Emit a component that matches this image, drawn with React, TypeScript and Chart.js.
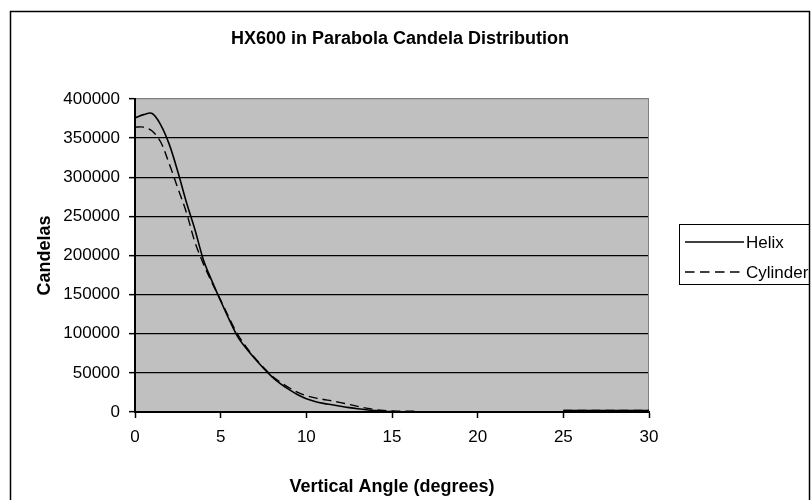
import React, { useEffect, useRef } from "react";
import { Chart, registerables } from "chart.js";

Chart.register(...registerables);

const FONT = "'Liberation Sans', Arial, sans-serif";

const chartTitle = "HX600 in Parabola Candela Distribution";
const xTitle = "Vertical Angle (degrees)";
const yTitle = "Candelas";
const seriesNames = ["Helix", "Cylinder"];

// angle 20 is a gap marker (no data between 16.5 and 25 degrees)
const angleDeg = [
  0, 0.5, 1, 1.5, 2, 2.5, 3, 3.5, 4, 4.5, 5, 5.5, 6, 6.5, 7, 7.5, 8, 8.5, 9, 9.5,
  10, 10.5, 11, 11.5, 12, 12.5, 13, 13.5, 14, 14.5, 15, 15.5, 16, 16.5,
  20,
  25, 25.5, 26, 26.5, 27, 27.5, 28, 28.5, 29, 29.5, 30,
];

const helixCd = [
  376000, 380000, 381500, 367000, 342000, 307000, 268000, 233000, 194000, 167000,
  142000, 118000, 96000, 81000, 68000, 56000, 45000, 36000, 28500, 22000,
  17000, 13500, 11000, 9200, 7300, 5600, 4100, 2800, 1800, 1000, 500, 300, 200, 200,
  null,
  1800, 1800, 1800, 1800, 1800, 1800, 1800, 1800, 1800, 1800, 1800,
];

const cylinderCd = [
  364000, 364000, 359000, 345000, 317000, 286000, 255000, 217000, 189000, 165000,
  143000, 120000, 99000, 83000, 69000, 57000, 46000, 38000, 31000, 25000,
  21000, 18000, 16000, 14200, 12000, 9600, 7200, 5000, 3200, 2000, 1400, 1100, 1000, 1000,
  null,
  2000, 2000, 2000, 2000, 2000, 2000, 2000, 2000, 2000, 2000, 2000,
];

const xTicks = [0, 5, 10, 15, 20, 25, 30];
const yTicks = [0, 50000, 100000, 150000, 200000, 250000, 300000, 350000, 400000];

const seriesDash = [[], [9, 5]];

const framePlugin = {
  id: "frame",
  beforeDraw(chart: any) {
    const { ctx, chartArea } = chart;
    const { left, top, right, bottom } = chartArea;
    ctx.save();
    ctx.fillStyle = "#ffffff";
    ctx.fillRect(0, 0, chart.width, chart.height);
    ctx.fillStyle = "#C0C0C0";
    ctx.fillRect(left, top, right - left, bottom - top);
    ctx.restore();
  },
  beforeDatasetsDraw(chart: any) {
    const { ctx, chartArea } = chart;
    const { top, right, bottom } = chartArea;
    ctx.save();
    ctx.strokeStyle = "#808080";
    ctx.lineWidth = 1;
    ctx.beginPath();
    ctx.moveTo(right - 0.5, top);
    ctx.lineTo(right - 0.5, bottom);
    ctx.stroke();
    ctx.restore();
  },
  afterDraw(chart: any) {
    const { ctx } = chart;
    ctx.save();
    // outer frame (bottom edge lies beyond the canvas)
    ctx.strokeStyle = "#000";
    ctx.lineWidth = 1.5;
    ctx.strokeRect(10.5, 11.5, 799, 500);
    // title
    ctx.fillStyle = "#000";
    ctx.font = `bold 18px ${FONT}`;
    ctx.textAlign = "center";
    ctx.textBaseline = "middle";
    ctx.fillText(chartTitle, 400, 39);
    // legend
    const bx = 679.5, by = 224.5, bw = 130, bh = 60;
    ctx.lineWidth = 1;
    ctx.strokeRect(bx, by, bw, bh);
    ctx.font = `17px ${FONT}`;
    ctx.textAlign = "left";
    const rows = [242, 272];
    seriesNames.forEach((name, i) => {
      const y = rows[i];
      ctx.beginPath();
      ctx.lineWidth = 1.4;
      ctx.setLineDash(i === 1 ? [9.5, 5.5] : []);
      ctx.moveTo(685, y);
      ctx.lineTo(744, y);
      ctx.stroke();
      ctx.setLineDash([]);
      ctx.fillText(name, 746, y + 1);
    });
    ctx.restore();
  },
};

export default function App() {
  const canvasRef = useRef<HTMLCanvasElement | null>(null);

  useEffect(() => {
    if (!canvasRef.current) return;
    const mk = (vals: (number | null)[]) =>
      angleDeg.map((a, i) => ({ x: a, y: vals[i] }));
    const chart = new Chart(canvasRef.current, {
      type: "scatter",
      data: {
        datasets: [
          {
            label: seriesNames[0],
            data: mk(helixCd) as any,
            showLine: true,
            borderColor: "#000",
            borderWidth: 1.6,
            borderDash: seriesDash[0],
            pointRadius: 0,
            tension: 0.35,
            spanGaps: false,
          },
          {
            label: seriesNames[1],
            data: mk(cylinderCd) as any,
            showLine: true,
            borderColor: "#000",
            borderWidth: 1.4,
            borderDash: seriesDash[1],
            pointRadius: 0,
            tension: 0.35,
            spanGaps: false,
          },
        ],
      },
      options: {
        responsive: false,
        animation: false,
        events: [],
        layout: { padding: { left: 10, top: 99, right: 162, bottom: 0 } },
        plugins: {
          legend: { display: false },
          title: { display: false },
          tooltip: { enabled: false },
        },
        scales: {
          x: {
            type: "linear",
            min: 0,
            max: 30,
            afterBuildTicks: (s: any) => {
              s.ticks = xTicks.map((v) => ({ value: v }));
            },
            afterFit: (s: any) => {
              s.height = 88;
            },
            ticks: {
              color: "#000",
              font: { size: 17, family: FONT },
              padding: 9,
              maxRotation: 0,
              callback: (v: any) => String(v),
            },
            grid: {
              drawOnChartArea: false,
              color: "#000",
              tickLength: 6,
              tickWidth: 1.5,
            },
            border: { color: "#000", width: 2 },
            title: {
              display: true,
              text: xTitle,
              color: "#000",
              font: { size: 18, weight: "bold", family: FONT },
              padding: { top: 0, bottom: 2 },
            },
          },
          y: {
            type: "linear",
            min: 0,
            max: 400000,
            afterBuildTicks: (s: any) => {
              s.ticks = yTicks.map((v) => ({ value: v }));
            },
            afterFit: (s: any) => {
              s.width = 125;
            },
            ticks: {
              color: "#000",
              font: { size: 17, family: FONT },
              padding: 9,
              callback: (v: any) => String(v),
            },
            grid: {
              color: (c: any) => (c.tick && c.tick.value === 400000 ? "#808080" : "#000"),
              tickColor: "#000",
              lineWidth: 1.3,
              tickLength: 6,
              tickWidth: 1.5,
            },
            border: { color: "#000", width: 2 },
            title: {
              display: true,
              text: yTitle,
              color: "#000",
              font: { size: 18, weight: "bold", family: FONT },
              padding: { top: 24, bottom: 0 },
            },
          },
        },
      },
      plugins: [framePlugin],
    } as any);
    return () => chart.destroy();
  }, []);

  return (
    <div style={{ position: "absolute", left: 0, top: 0, width: 811, height: 500 }}>
      <canvas ref={canvasRef} width={811} height={500} style={{ display: "block" }} />
    </div>
  );
}
